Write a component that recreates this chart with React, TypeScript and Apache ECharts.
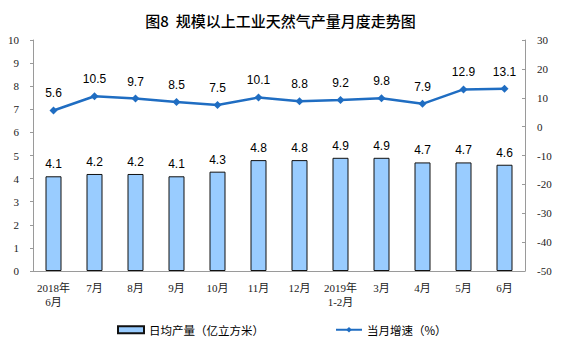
import React, { useEffect, useRef } from "react";
import * as echarts from "echarts";

const categories = ["2018年\n6月", "7月", "8月", "9月", "10月", "11月", "12月", "2019年\n1-2月", "3月", "4月", "5月", "6月"];
const dailyOutput = [4.1, 4.2, 4.2, 4.1, 4.3, 4.8, 4.8, 4.9, 4.9, 4.7, 4.7, 4.6];
const growthRate = [5.6, 10.5, 9.7, 8.5, 7.5, 10.1, 8.8, 9.2, 9.8, 7.9, 12.9, 13.1];
const titleText = "图8  规模以上工业天然气产量月度走势图";
const barName = "日均产量（亿立方米）";
const lineName = "当月增速（%）";

const axisFont = "'Liberation Serif', 'Noto Sans CJK SC', serif";
const labelFont = "'Liberation Sans', Arial, sans-serif";
const cjkFont = "'Noto Sans CJK SC', sans-serif";

export default function App() {
  const ref = useRef<HTMLDivElement>(null);
  useEffect(() => {
    if (!ref.current) return;
    const chart = echarts.init(ref.current, null, { renderer: "svg" });
    chart.setOption({
      animation: false,
      backgroundColor: "#ffffff",
      title: {
        text: titleText,
        left: "center",
        top: 8,
        textStyle: { fontFamily: cjkFont, fontSize: 15, fontWeight: 500, color: "#000" },
      },
      legend: {
        left: 112,
        top: 319,
        itemGap: 71,
        itemWidth: 26,
        itemHeight: 7,
        textStyle: { fontFamily: cjkFont, fontSize: 11.5, color: "#000" },
        data: [
          { name: barName, icon: "rect" },
          { name: lineName },
        ],
      },
      grid: { left: 33, right: 36, top: 40, bottom: 86 },
      xAxis: {
        type: "category",
        data: categories,
        axisLine: { lineStyle: { color: "#9a9a9a" } },
        axisTick: { inside: true, length: 3, lineStyle: { color: "#9a9a9a" } },
        axisLabel: { fontFamily: axisFont, fontSize: 11, color: "#222", margin: 10, interval: 0, lineHeight: 14 },
      },
      yAxis: [
        {
          type: "value",
          min: 0,
          max: 10,
          interval: 1,
          splitLine: { show: false },
          axisLine: { show: true, lineStyle: { color: "#9a9a9a" } },
          axisTick: { show: true, length: 3, lineStyle: { color: "#9a9a9a" } },
          axisLabel: { fontFamily: axisFont, fontSize: 11, color: "#222", margin: 14 },
        },
        {
          type: "value",
          min: -50,
          max: 30,
          interval: 10,
          splitLine: { show: false },
          axisLine: { show: true, lineStyle: { color: "#9a9a9a" } },
          axisTick: { show: true, inside: true, length: 3, lineStyle: { color: "#9a9a9a" } },
          axisLabel: { fontFamily: axisFont, fontSize: 11, color: "#222", margin: 12 },
        },
      ],
      series: [
        {
          name: barName,
          type: "bar",
          data: dailyOutput,
          barWidth: 16,
          itemStyle: { color: "#99ccff", borderColor: "#111", borderWidth: 1 },
          label: {
            show: true,
            position: "top",
            distance: 6,
            fontFamily: labelFont,
            fontSize: 12,
            color: "#000",
            formatter: (p: any) => p.value.toFixed(1),
          },
        },
        {
          name: lineName,
          type: "line",
          yAxisIndex: 1,
          data: growthRate,
          symbol: "diamond",
          symbolSize: 8,
          lineStyle: { color: "#1f6dc2", width: 2.5 },
          itemStyle: { color: "#1f6dc2" },
          label: {
            show: true,
            position: "top",
            distance: 7,
            fontFamily: labelFont,
            fontSize: 12,
            color: "#000",
            formatter: (p: any) => p.value.toFixed(1),
          },
        },
      ],
    });
    return () => chart.dispose();
  }, []);
  return <div ref={ref} style={{ width: 561, height: 357, marginLeft: -8, marginTop: -8 }} />;
}
